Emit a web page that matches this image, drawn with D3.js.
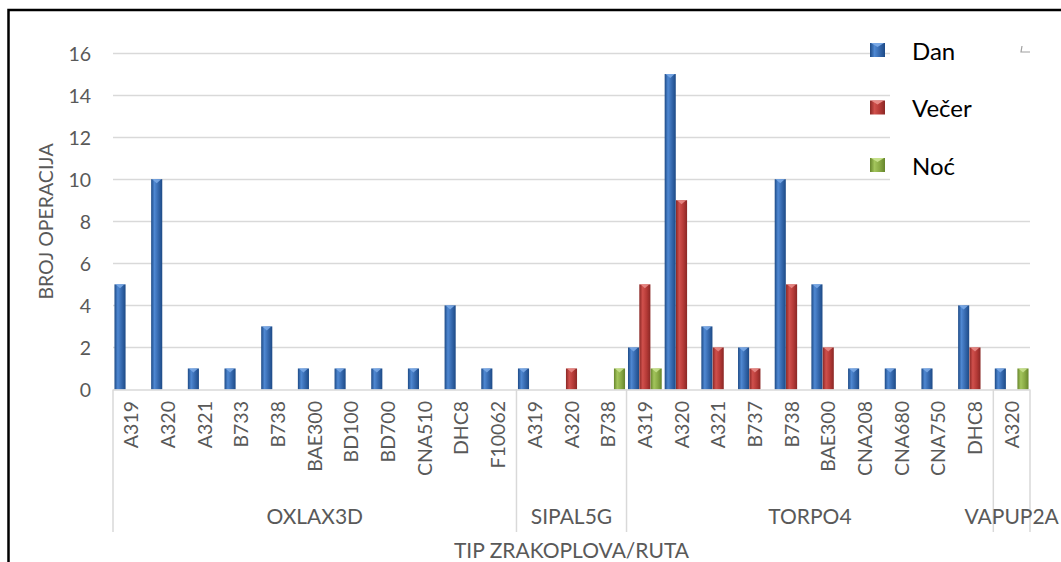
<!DOCTYPE html>
<html>
<head>
<meta charset="utf-8">
<script src="https://cdn.jsdelivr.net/npm/d3@7"></script>
<style>
  html, body { margin: 0; padding: 0; background: #fff; }
  svg { display: block; }
  text { font-family: Lato, "Open Sans", sans-serif; }
</style>
</head>
<body>
<svg id="chart" width="1061" height="562"></svg>
<script>
// ---------- DATA ----------
const groups = ["OXLAX3D", "SIPAL5G", "TORPO4", "VAPUP2A"];
const groupCategories = [
  ["A319", "A320", "A321", "B733", "B738", "BAE300", "BD100", "BD700", "CNA510", "DHC8", "F10062"],
  ["A319", "A320", "B738"],
  ["A319", "A320", "A321", "B737", "B738", "BAE300", "CNA208", "CNA680", "CNA750", "DHC8"],
  ["A320"]
];
const seriesNames = ["Dan", "Večer", "Noć"];
const dan   = [5, 10, 1, 1, 3, 1, 1, 1, 1, 4, 1,   1, 0, 0,   2, 15, 3, 2, 10, 5, 1, 1, 1, 4,   1];
const vecer = [0, 0, 0, 0, 0, 0, 0, 0, 0, 0, 0,    0, 1, 0,   5, 9, 2, 1, 5, 2, 0, 0, 0, 2,     0];
const noc   = [0, 0, 0, 0, 0, 0, 0, 0, 0, 0, 0,    0, 0, 1,   1, 0, 0, 0, 0, 0, 0, 0, 0, 0,     1];
const yTicks = [0, 2, 4, 6, 8, 10, 12, 14, 16];
const yTitle = "BROJ OPERACIJA";
const xTitle = "TIP ZRAKOPLOVA/RUTA";

(function () {
// ---------- BUILD ----------
const cats = [];
groups.forEach((g, gi) => groupCategories[gi].forEach(c => cats.push({ key: g + "|" + c, label: c, group: g })));
const seriesVals = [dan, vecer, noc];
const palette = [
  { dark: "#1d4a86", mid: "#3568ad", light: "#4f88d2", cap: "#7aa9e6" },
  { dark: "#8a2725", mid: "#b53a37", light: "#d0504c", cap: "#e88a86" },
  { dark: "#66852c", mid: "#89aa45", light: "#a3c55c", cap: "#c6e08c" }
];

const svg = d3.select("#chart");
const pLeft = 113, pRight = 1030, pTop = 53, base = 389.5;

const x0 = d3.scaleBand().domain(cats.map(c => c.key)).range([pLeft, pRight]).paddingInner(0).paddingOuter(0);
const x1 = d3.scaleBand().domain(seriesNames).range([0, x0.bandwidth()]).paddingInner(0.02).paddingOuter(0.13);
const y = d3.scaleLinear().domain([0, 16]).range([base, pTop]);

// gradients
const defs = svg.append("defs");
palette.forEach((p, i) => {
  const g = defs.append("linearGradient").attr("id", "g" + i).attr("x1", "0").attr("x2", "1").attr("y1", "0").attr("y2", "0");
  g.append("stop").attr("offset", "0%").attr("stop-color", p.dark);
  g.append("stop").attr("offset", "30%").attr("stop-color", p.light);
  g.append("stop").attr("offset", "65%").attr("stop-color", p.mid);
  g.append("stop").attr("offset", "100%").attr("stop-color", p.dark);
});

// outer frame
svg.append("rect").attr("x", 8.5).attr("y", 10).attr("width", 1100).attr("height", 600)
  .attr("fill", "none").attr("stroke", "#000").attr("stroke-width", 2.5);

// gridlines
svg.append("g").selectAll("line").data(yTicks.filter(t => t > 0)).join("line")
  .attr("x1", pLeft).attr("x2", pRight)
  .attr("y1", d => Math.round(y(d)) + 0.5).attr("y2", d => Math.round(y(d)) + 0.5)
  .attr("stroke", "#d9d9d9").attr("stroke-width", 1.5);

// y axis labels
const yAxis = d3.axisLeft(y).tickValues(yTicks).tickSize(0).tickPadding(0);
const yg = svg.append("g").attr("transform", `translate(${91},0)`).call(yAxis);
yg.select(".domain").remove();
yg.selectAll("text").attr("fill", "#595959").style("font-size", "19.5px").style("font-family", "Lato, sans-serif").attr("dy", "0.36em");

// bars
cats.forEach((c, ci) => {
  seriesNames.forEach((s, si) => {
    const v = seriesVals[si][ci];
    if (!v) return;
    const bx = x0(c.key) + x1(s), bw = x1.bandwidth();
    const by = y(v);
    svg.append("rect").attr("x", bx).attr("y", by).attr("width", bw).attr("height", base - by)
      .attr("fill", `url(#g${si})`);
    svg.append("path")
      .attr("d", `M${bx + 1},${by} L${bx + bw - 1},${by} L${bx + bw / 2},${by + 4} Z`)
      .attr("fill", palette[si].cap).attr("opacity", 0.9);
  });
});

// category axis frame
const axisColor = "#d9d9d9";
svg.append("line").attr("x1", pLeft).attr("x2", pRight).attr("y1", base + 0.5).attr("y2", base + 0.5)
  .attr("stroke", axisColor).attr("stroke-width", 1.5);
const boundaries = [pLeft];
groups.forEach((g) => {
  const lastCat = cats.filter(c => c.group === g).slice(-1)[0];
  boundaries.push(x0(lastCat.key) + x0.bandwidth());
});
svg.append("g").selectAll("line").data(boundaries).join("line")
  .attr("x1", d => d).attr("x2", d => d).attr("y1", base).attr("y2", 532)
  .attr("stroke", axisColor).attr("stroke-width", 1.5);

// category labels
svg.append("g").selectAll("text").data(cats).join("text")
  .attr("transform", d => `translate(${x0(d.key) + x0.bandwidth() / 2},${401}) rotate(-90)`)
  .attr("text-anchor", "end").attr("dy", "0.36em")
  .attr("fill", "#595959").style("font-size", "19.5px")
  .text(d => d.label);

// group labels
svg.append("g").selectAll("text").data(groups).join("text")
  .attr("x", (g, i) => (boundaries[i] + boundaries[i + 1]) / 2)
  .attr("y", 524)
  .attr("text-anchor", "middle").attr("fill", "#595959").style("font-size", "21px")
  .text(d => d);

// axis titles
svg.append("text").attr("transform", `translate(53,221.5) rotate(-90)`)
  .attr("text-anchor", "middle").attr("fill", "#595959").style("font-size", "19.5px").text(yTitle);
svg.append("text").attr("x", 571.5).attr("y", 558)
  .attr("text-anchor", "middle").attr("fill", "#595959").style("font-size", "21px").text(xTitle);

// legend
svg.append("rect").attr("x", 890).attr("y", 40).attr("width", 141).attr("height", 155).attr("fill", "#fff");
const leg = svg.append("g").selectAll("g").data(seriesNames).join("g")
  .attr("transform", (d, i) => `translate(870,${43 + i * 57.5})`);
leg.append("rect").attr("width", 15).attr("height", 14).attr("fill", (d, i) => `url(#g${i})`);
leg.append("path").attr("d", "M1,0 L14,0 L7.5,4 Z").attr("fill", (d, i) => palette[i].cap);
leg.append("text").attr("x", 42).attr("y", 16.5).attr("fill", "#000").style("font-size", "24px").text(d => d);

// small stray mark near legend
svg.append("path").attr("d", "M1022,46 L1021,52 L1030,52").attr("fill", "none")
  .attr("stroke", "#a0a0a0").attr("stroke-width", 1.2);
})();
</script>
</body>
</html>
